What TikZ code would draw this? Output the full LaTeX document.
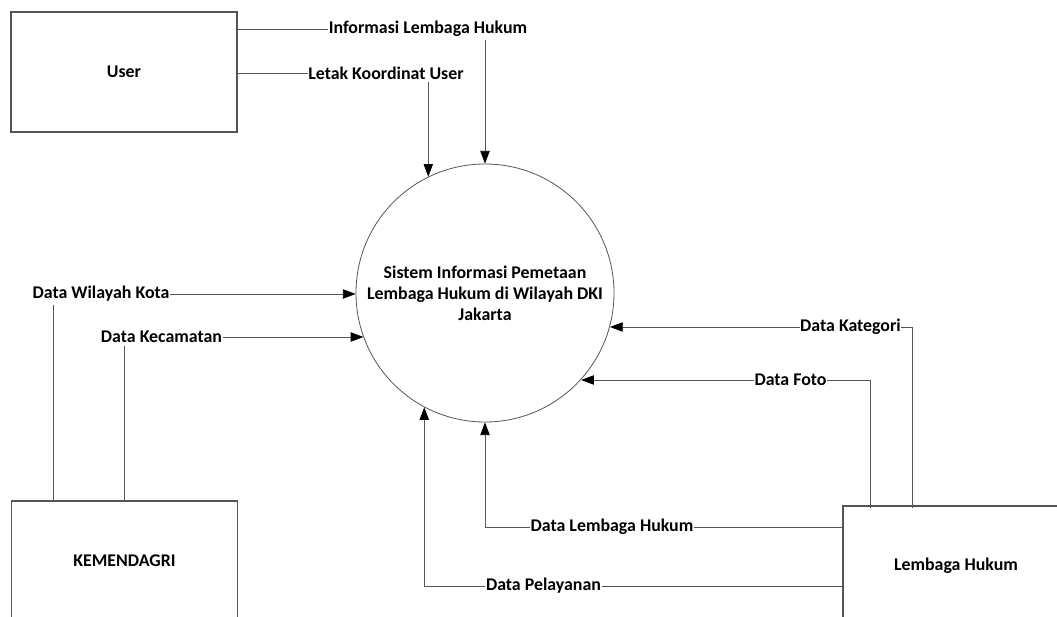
\documentclass[tikz,border=0pt]{standalone}
\usepackage{fontspec}
\setmainfont{Carlito}
\usetikzlibrary{arrows.meta}
\usetikzlibrary{positioning}
\definecolor{linegray}{RGB}{85,85,85}
\tikzset{
  entity/.style={draw=linegray,line width=0.8pt,minimum width=169.5pt,minimum height=90pt,inner sep=0pt},
  process/.style={draw=linegray,line width=0.6pt,circle,minimum size=193.5pt,inner sep=0pt,align=center},
  flowlabel/.style={inner xsep=0.3pt,inner ysep=2pt},
  flow/.style={draw=linegray,line width=0.6pt,-{Triangle[length=9.5pt,width=7pt,color=black]}},
  link/.style={draw=linegray,line width=0.6pt}
}
\begin{document}
\begin{tikzpicture}[x=0.75pt,y=-0.75pt,font=\fontsize{13.4}{15.8}\selectfont\bfseries]
\useasboundingbox (0,0) rectangle (1057,617);
\clip (0,0) rectangle (1057,617);
\node[entity] (user) at (124,72) {User};
\node[entity] (kem) at (124.5,561) {KEMENDAGRI};
\node[entity] (lh) at (956,566) {Lembaga Hukum};
\node[process] (proc) at (485,293) {Sistem Informasi Pemetaan\\Lembaga Hukum di Wilayah DKI\\Jakarta};
\node[flowlabel] (info) at (428,29) {Informasi Lembaga Hukum};
\node[flowlabel] (letak) at (386,73) {Letak Koordinat User};
\node[flowlabel] (wil) at (101,294) {Data Wilayah Kota};
\node[flowlabel] (kec) at (161.5,337) {Data Kecamatan};
\node[flowlabel] (kat) at (850.5,327) {Data Kategori};
\node[flowlabel] (foto) at (790.5,380) {Data Foto};
\node[flowlabel] (dlh) at (612,527) {Data Lembaga Hukum};
\node[flowlabel] (pel) at (543.5,586) {Data Pelayanan};
\coordinate (k1) at (53,501);
\coordinate (l1) at (870,508);
\coordinate (l2) at (912,508);
\draw[link] (user.east |- info.west) -- (info.west);
\draw[flow] (info.south -| proc.north) -- (proc.north);
\draw[link] (user.east |- letak.west) -- (letak.west);
\draw[flow] (letak.south -| proc.116) -- (proc.116);
\draw[flow] (wil.east) -- (wil.east -| proc.west);
\draw[link] (wil.south -| k1) -- (k1);
\draw[flow] (kec.east) -- (kec.east -| proc.200);
\draw[link] (kec.south -| kem.north) -- (kem.north);
\draw[flow] (kat.west) -- (kat.west -| proc.-15);
\draw[link] (kat.east) -| (l2);
\draw[flow] (foto.west) -- (foto.west -| proc.-42);
\draw[link] (foto.east) -| (l1);
\draw[link] (dlh.east -| lh.west) -- (dlh.east);
\draw[flow] (dlh.west) -| (proc.south);
\draw[link] (pel.east -| lh.west) -- (pel.east);
\draw[flow] (pel.west) -| (proc.242);
\end{tikzpicture}
\end{document}
